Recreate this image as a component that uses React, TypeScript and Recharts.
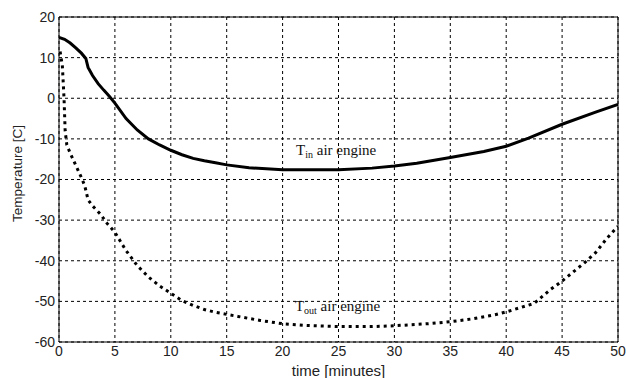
import React from 'react';
import { LineChart, Line, XAxis, YAxis, CartesianGrid, ReferenceLine, ReferenceDot, Label } from 'recharts';

// values (time in minutes, temperature in C)
const tinTime = [0, 0.5, 1, 1.5, 2, 2.4, 2.6, 3, 3.5, 4, 4.5, 5, 6, 7, 8, 9, 10, 11, 12, 13, 14, 15, 17, 20, 25, 28, 30, 32, 35, 38, 40, 42, 45, 48, 50];
const tinTemp = [15, 14.5, 13.6, 12.4, 11.1, 9.8, 7.6, 5.6, 3.6, 2, 0.5, -1.2, -5, -7.8, -10, -11.5, -12.8, -13.9, -14.8, -15.4, -15.9, -16.4, -17.1, -17.6, -17.6, -17.2, -16.7, -16, -14.6, -13.1, -11.8, -9.8, -6.4, -3.4, -1.5];

const toutTime = [0.1, 0.3, 0.45, 0.55, 0.7, 1, 1.5, 2, 2.3, 2.6, 3, 3.7, 4.3, 5, 6, 7, 8, 9, 10, 11, 12, 13, 14, 16, 18, 20, 22, 25, 28, 30, 33, 35, 37, 39, 40, 42.5, 44, 45, 47, 48, 49, 50];
const toutTemp = [11.5, 8, 0, -8, -11.5, -13.5, -16.5, -19.5, -21.5, -25, -26.5, -28.5, -30.8, -33, -37.5, -41.2, -44, -46.2, -48, -49.8, -51, -52, -52.7, -53.7, -54.7, -55.5, -55.9, -56.2, -56.2, -56, -55.5, -55, -54.3, -53.3, -52.6, -50.5, -47, -45, -40.5, -38, -34.5, -31.5];

const xTicks = [0, 5, 10, 15, 20, 25, 30, 35, 40, 45, 50];
const yTicks = [-60, -50, -40, -30, -20, -10, 0, 10, 20];

const tinData = tinTime.map((t, i) => ({ t, v: tinTemp[i] }));
const toutData = toutTime.map((t, i) => ({ t, v: toutTemp[i] }));

const sans = 'Liberation Sans, Arial, sans-serif';
const tickStyle = { fontFamily: sans, fontSize: 14, fill: '#222' };

const curveLabel = (sub: string) => (props: any) => {
  const { x, y } = props.viewBox;
  return (
    <text x={x} y={y} fontFamily="Liberation Serif, Times New Roman, serif" fontSize={15} fill="#111">
      T<tspan fontSize={10} dy={3}>{sub}</tspan><tspan dy={-3}> air engine</tspan>
    </text>
  );
};

const yTitle = (props: any) => {
  const { y, height } = props.viewBox;
  const cx = 17;
  const cy = y + height / 2 - 6;
  return (
    <text x={cx} y={cy} transform={`rotate(-90 ${cx} ${cy})`} textAnchor="middle" dominantBaseline="central" fontFamily={sans} fontSize={13.5} fill="#222">
      Temperature [C]
    </text>
  );
};

const App = () => {
  return (
    <div style={{ position: 'absolute', left: 0, top: 0, background: '#fff' }}>
      <LineChart width={626} height={378} margin={{ top: 17, right: 8, left: 0, bottom: 0 }}>
        <CartesianGrid stroke="#000" strokeDasharray="3 3" strokeWidth={1} verticalValues={xTicks} horizontalValues={yTicks} />
        <XAxis
          type="number"
          dataKey="t"
          domain={[0, 50]}
          ticks={xTicks}
          allowDataOverflow
          tickLine={false}
          tickSize={0}
          tickMargin={4}
          height={36}
          stroke="#000"
          tick={tickStyle}
        >
          <Label value="time [minutes]" position="insideBottom" offset={2} style={{ ...tickStyle, fontSize: 15 }} />
        </XAxis>
        <YAxis
          type="number"
          dataKey="v"
          domain={[-60, 20]}
          ticks={yTicks}
          allowDataOverflow
          tickLine={false}
          tickSize={0}
          tickMargin={4}
          width={59}
          stroke="#000"
          tick={tickStyle}
        >
          <Label content={yTitle} />
        </YAxis>
        <ReferenceLine y={20} stroke="#000" strokeWidth={1} />
        <ReferenceLine x={50} stroke="#000" strokeWidth={1} />
        <Line data={tinData} dataKey="v" type="linear" stroke="#000" strokeWidth={3} dot={false} isAnimationActive={false} />
        <Line data={toutData} dataKey="v" type="linear" stroke="#000" strokeWidth={3} strokeDasharray="3 4" dot={false} isAnimationActive={false} />
        <ReferenceDot x={21.2} y={-14} r={0} ifOverflow="visible" label={{ content: curveLabel('in') }} />
        <ReferenceDot x={21.1} y={-52.4} r={0} ifOverflow="visible" label={{ content: curveLabel('out') }} />
      </LineChart>
    </div>
  );
};

export default App;
